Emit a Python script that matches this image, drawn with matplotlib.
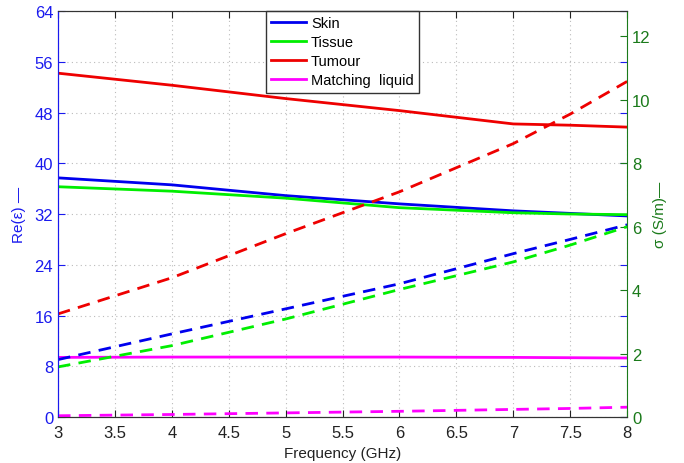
import matplotlib
matplotlib.use('Agg')
import matplotlib.pyplot as plt

plt.rcParams['font.family'] = ['Liberation Sans', 'DejaVu Sans']

freq = [3, 4, 5, 6, 7, 7.5, 8]

# permittivity (left axis)
eps_skin = [37.7, 36.6, 34.9, 33.6, 32.5, 32.1, 31.7]
eps_tissue = [36.3, 35.6, 34.5, 33.0, 32.2, 32.0, 31.9]
eps_tumour = [54.2, 52.3, 50.2, 48.3, 46.2, 46.0, 45.7]
eps_liquid = [9.4, 9.45, 9.45, 9.45, 9.4, 9.35, 9.3]

# conductivity (right axis)
sig_skin = [1.81, 2.62, 3.41, 4.2, 5.15, 5.6, 6.06]
sig_tissue = [1.58, 2.25, 3.09, 4.02, 4.89, 5.42, 6.0]
sig_tumour = [3.25, 4.39, 5.78, 7.1, 8.62, 9.55, 10.58]
sig_liquid = [0.04, 0.08, 0.13, 0.18, 0.24, 0.27, 0.31]

c_skin = '#0000ee'
c_tissue = '#00ee00'
c_tumour = '#ee0000'
c_liquid = '#ff00ff'
c_left = '#1a1aee'
c_right = '#1a7a1a'

fig = plt.figure(figsize=(6.84, 4.64), dpi=100)
ax1 = fig.add_axes([0.0848, 0.0991, 0.832, 0.875])
ax2 = ax1.twinx()

lw = 2.0
dash = (0, (4.5, 3))
ax1.plot(freq, eps_skin, color=c_skin, lw=lw, label='Skin')
ax1.plot(freq, eps_tissue, color=c_tissue, lw=lw, label='Tissue')
ax1.plot(freq, eps_tumour, color=c_tumour, lw=lw, label='Tumour')
ax1.plot(freq, eps_liquid, color=c_liquid, lw=lw, label='Matching  liquid')

ax2.plot(freq, sig_skin, color=c_skin, lw=lw, ls=dash)
ax2.plot(freq, sig_tissue, color=c_tissue, lw=lw, ls=dash)
ax2.plot(freq, sig_tumour, color=c_tumour, lw=lw, ls=dash)
ax2.plot(freq, sig_liquid, color=c_liquid, lw=lw, ls=dash)

ax1.set_xlim(3, 8)
ax1.set_ylim(0, 64)
ax1.set_xticks([3, 3.5, 4, 4.5, 5, 5.5, 6, 6.5, 7, 7.5, 8])
ax1.set_xticklabels(['3', '3.5', '4', '4.5', '5', '5.5', '6', '6.5', '7', '7.5', '8'])
ax1.set_yticks(range(0, 65, 8))
ax2.set_ylim(0, 12.8)
ax2.set_yticks(range(0, 13, 2))

ax1.grid(True, ls=(0, (1, 3)), color='#bbbbbb', lw=0.8)

ax1.tick_params(axis='y', direction='in', colors=c_left, labelsize=12, length=5, right=True)
ax1.tick_params(axis='x', direction='in', colors='#222222', labelsize=12, length=5, top=True, pad=6)
ax2.tick_params(axis='y', direction='in', colors=c_right, labelsize=12, length=5)

ax1.spines['left'].set_color(c_left)
ax2.spines['left'].set_color(c_left)
ax2.spines['right'].set_color(c_right)
ax1.spines['right'].set_visible(False)
for sp in ['top', 'bottom']:
    ax1.spines[sp].set_color('#333333')
    ax2.spines[sp].set_color('#333333')

ax1.set_xlabel('Frequency (GHz)', fontsize=11, color='#222222', labelpad=4)
ax1.set_ylabel('Re(ε) —', fontsize=11, color=c_left, labelpad=6)
ax2.set_ylabel('σ (S/m)—', fontsize=11, color=c_right, labelpad=2)

leg = ax1.legend(loc='upper center', bbox_to_anchor=(0.5, 1.0), fontsize=10.5,
                 fancybox=False, edgecolor='#333333', framealpha=1,
                 handlelength=2.4, borderaxespad=0.0, labelspacing=0.35,
                 handletextpad=0.3, borderpad=0.35)
leg.get_frame().set_linewidth(1.0)

fig.savefig('out.png', dpi=100)
